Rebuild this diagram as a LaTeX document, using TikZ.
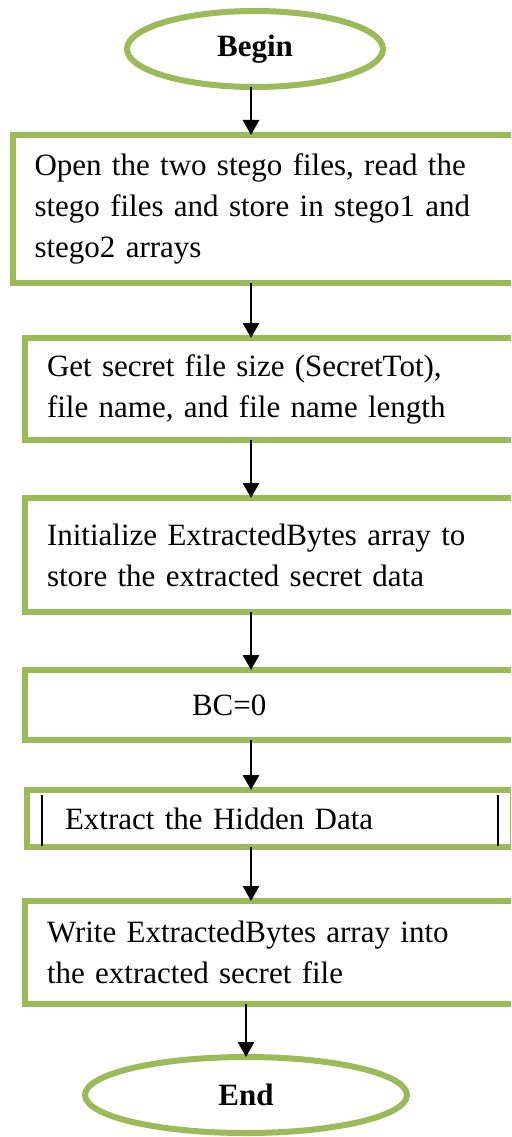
\documentclass[tikz,border=0pt]{standalone}
\usepackage{fontspec}
\setmainfont{Liberation Serif}
\usepackage{tikz}
\usetikzlibrary{shapes.geometric}
\usetikzlibrary{arrows.meta}
\definecolor{stepgreen}{HTML}{9BBB59}
\tikzset{
	flowbox/.style={draw=stepgreen, line width=6pt, rectangle, outer sep=0pt, inner ysep=0pt, anchor=north west, align=left, font=\fontsize{31}{41}\selectfont},
	terminal/.style={draw=stepgreen, line width=6pt, ellipse, outer sep=0pt, inner sep=0pt, font=\fontsize{31}{41}\selectfont\bfseries},
	arr/.style={line width=2.5pt, -{Triangle[width=16pt,length=15pt]}}
}

\begin{document}
\begin{tikzpicture}[x=1pt, y=-1pt]
				\useasboundingbox (0, 0) rectangle (511, 1137);
				\clip (0, 0) rectangle (511, 1137);
				% Nodes:
				\node[terminal, minimum width=256, minimum height=76](begin) at (255, 49){Begin};
				\node[flowbox, inner xsep=22, text width=466, minimum height=148](open) at (12.5, 135){Open the two stego files, read the\\stego files and store in stego1 and\\stego2 arrays};
				\node[flowbox, inner xsep=22, text width=456, minimum height=102](getsize) at (25, 338){Get secret file size (SecretTot),\\file name, and file name length};
				\node[flowbox, inner xsep=22, text width=456, minimum height=114](init) at (25, 498){Initialize ExtractedBytes array to\\store the extracted secret data};
				\node[flowbox, inner xsep=167, text width=166, minimum height=70](bc) at (25, 670){BC=0};
				\node[flowbox, inner xsep=38, text width=410, minimum height=57](extract) at (27, 790){Extract the Hidden Data};
				\node[flowbox, inner xsep=22, text width=456, minimum height=103](write) at (25, 901){Write ExtractedBytes array into\\the extracted secret file};
				\node[terminal, minimum width=322, minimum height=76](end) at (246, 1095){End};
				\coordinate (spine) at (251, 0);
				% Inner bars of the predefined process:
				\draw[line width=1.2pt] ([xshift=15pt, yshift=-5pt]extract.north west) -- ([xshift=15pt, yshift=1pt]extract.south west);
				\draw[line width=1.2pt] ([xshift=-15pt, yshift=-5pt]extract.north east) -- ([xshift=-15pt, yshift=1pt]extract.south east);
				% Arrows:
				\draw[arr] (begin.south -| spine) -- (open.north -| spine);
				\draw[arr] (open.south -| spine) -- (getsize.north -| spine);
				\draw[arr] (getsize.south -| spine) -- (init.north -| spine);
				\draw[arr] (init.south -| spine) -- (bc.north -| spine);
				\draw[arr] (bc.south -| spine) -- (extract.north -| spine);
				\draw[arr] (extract.south -| spine) -- (write.north -| spine);
				\draw[arr] (write.south -| end.north) -- (end.north);
			\end{tikzpicture}
\end{document}
